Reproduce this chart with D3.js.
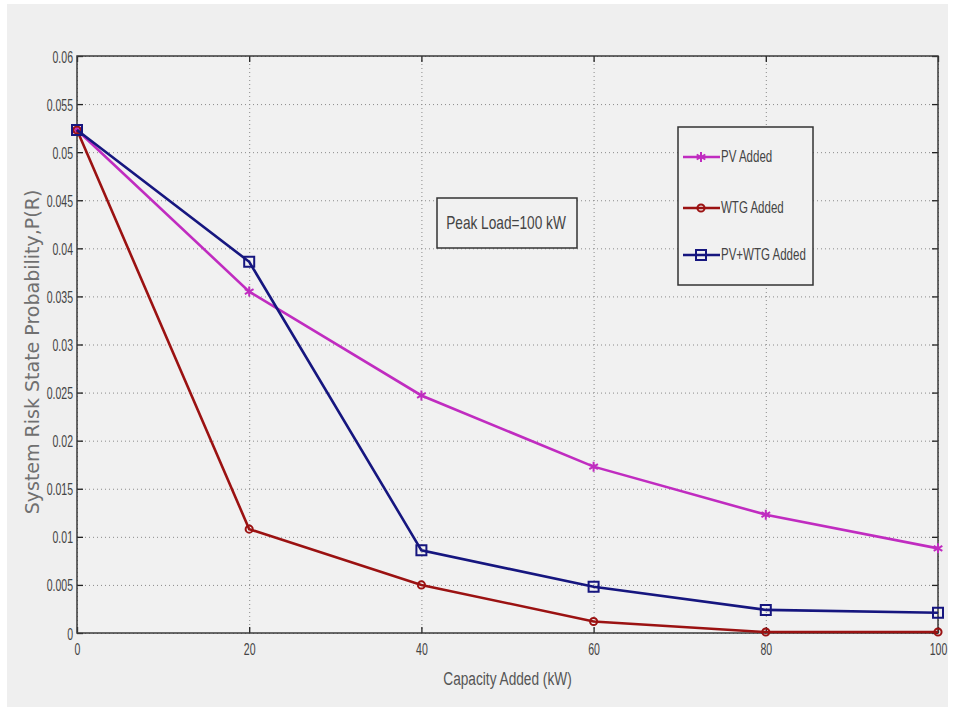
<!DOCTYPE html>
<html>
<head>
<meta charset="UTF-8">
<title>System Risk State Probability</title>
<script src="https://cdn.jsdelivr.net/npm/d3@7"></script>
<style>
    body { margin: 0; background: #ffffff; }
    svg { display: block; }
</style>
</head>
<body>
<svg id="chart" width="958" height="707"></svg>
<script>
// values
var capacity = [0, 20, 40, 60, 80, 100];
var pvAdded = [0.0523, 0.0355, 0.0247, 0.0173, 0.0123, 0.0088];
var wtgAdded = [0.0523, 0.0108, 0.0050, 0.0012, 0.0001, 0.0001];
var pvWtgAdded = [0.0523, 0.0386, 0.0086, 0.0048, 0.0024, 0.0021];
var xTicks = [0, 20, 40, 60, 80, 100];
var yTicks = [0, 0.005, 0.01, 0.015, 0.02, 0.025, 0.03, 0.035, 0.04, 0.045, 0.05, 0.055, 0.06];
var seriesNames = ["PV Added", "WTG Added", "PV+WTG Added"];

var series = [
    { name: seriesNames[0], values: pvAdded, color: "#c02cc0", symbol: d3.symbolAsterisk, size: 70 },
    { name: seriesNames[1], values: wtgAdded, color: "#9b1212", symbol: d3.symbolCircle, size: 40 },
    { name: seriesNames[2], values: pvWtgAdded, color: "#16167f", symbol: d3.symbolSquare, size: 100 }
];

var svg = d3.select("#chart");
var plotL = 77, plotR = 938, plotT = 56, plotB = 633;
var labelFont = "Liberation Sans, Arial, sans-serif";

// grey figure background
svg.append("rect").attr("x", 7).attr("y", 4).attr("width", 941).attr("height", 703)
    .attr("fill", "#efefef");
svg.append("rect").attr("x", plotL).attr("y", plotT).attr("width", plotR - plotL).attr("height", plotB - plotT)
    .attr("fill", "#f1f1f1");

var x = d3.scaleLinear().domain([0, 100]).range([plotL, plotR]);
var y = d3.scaleLinear().domain([0, 0.06]).range([plotB, plotT]);

var narrow = 0.62;

// dotted grid
svg.append("g").attr("transform", "translate(0," + plotB + ")")
    .call(d3.axisBottom(x).tickValues(xTicks).tickSize(-(plotB - plotT)).tickFormat(""))
    .call(function (g) {
        g.select(".domain").remove();
        g.selectAll("line").attr("stroke", "#8a8a8a").attr("stroke-dasharray", "1,3");
    });
svg.append("g").attr("transform", "translate(" + plotL + ",0)")
    .call(d3.axisLeft(y).tickValues(yTicks).tickSize(-(plotR - plotL)).tickFormat(""))
    .call(function (g) {
        g.select(".domain").remove();
        g.selectAll("line").attr("stroke", "#8a8a8a").attr("stroke-dasharray", "1,3");
    });

// inward ticks, matlab style, on all four sides
function styleAxis(g) {
    g.select(".domain").remove();
    g.selectAll("line").attr("stroke", "#222").attr("stroke-width", 1.3);
}
svg.append("g").attr("transform", "translate(0," + plotT + ")")
    .call(d3.axisTop(x).tickValues(xTicks).tickSize(-6).tickFormat(""))
    .call(styleAxis);
svg.append("g").attr("transform", "translate(" + plotR + ",0)")
    .call(d3.axisRight(y).tickValues(yTicks).tickSize(-6).tickFormat(""))
    .call(styleAxis);

svg.append("g").attr("transform", "translate(0," + plotB + ")")
    .call(d3.axisBottom(x).tickValues(xTicks).tickSize(-6).tickFormat(d3.format("d")))
    .call(styleAxis)
    .call(function (g) {
        g.selectAll("text")
            .attr("y", 0).attr("dy", null)
            .attr("transform", "translate(0,22) scale(" + narrow + ",1)")
            .attr("fill", "#444").style("font-family", labelFont)
            .style("font-size", "17px");
    });

svg.append("g").attr("transform", "translate(" + plotL + ",0)")
    .call(d3.axisLeft(y).tickValues(yTicks).tickSize(-6).tickFormat(function (d) { return d === 0 ? "0" : String(+d.toFixed(3)); }))
    .call(styleAxis)
    .call(function (g) {
        g.selectAll("text")
            .attr("x", 0).attr("dy", null)
            .attr("transform", "translate(-4,6) scale(" + narrow + ",1)")
            .attr("fill", "#444").style("font-family", labelFont)
            .style("font-size", "17px");
    });

// axes box
svg.append("rect").attr("x", plotL).attr("y", plotT).attr("width", plotR - plotL).attr("height", plotB - plotT)
    .attr("fill", "none").attr("stroke", "#3a3a3a").attr("stroke-width", 1.5);

// series lines and markers
var line = d3.line().x(function (d, i) { return x(capacity[i]); }).y(function (d) { return y(d); });

series.forEach(function (s) {
    svg.append("path").datum(s.values)
        .attr("d", line)
        .attr("fill", "none").attr("stroke", s.color).attr("stroke-width", 2.6);
    svg.append("g").selectAll("path").data(s.values).enter().append("path")
        .attr("transform", function (d, i) { return "translate(" + x(capacity[i]) + "," + y(d) + ")"; })
        .attr("d", d3.symbol().type(s.symbol).size(s.size))
        .attr("fill", "none").attr("stroke", s.color).attr("stroke-width", 2);
});

// axis titles
svg.append("text")
    .attr("transform", "translate(" + ((plotL + plotR) / 2) + ",685) scale(0.72,1)")
    .attr("text-anchor", "middle")
    .attr("fill", "#555").style("font-family", labelFont).style("font-size", "19px")
    .text("Capacity Added (kW)");

svg.append("text")
    .attr("transform", "translate(39,352) rotate(-90)")
    .attr("text-anchor", "middle")
    .attr("fill", "#707070").style("font-family", "DejaVu Sans, sans-serif").style("font-size", "19px")
    .text("System Risk State Probability,P(R)");

// annotation box
svg.append("rect").attr("x", 437).attr("y", 198).attr("width", 140).attr("height", 50)
    .attr("fill", "#f1f1f1").attr("stroke", "#333").attr("stroke-width", 1.5);
svg.append("text")
    .attr("transform", "translate(506,229) scale(0.76,1)")
    .attr("text-anchor", "middle")
    .attr("fill", "#444").style("font-family", labelFont).style("font-size", "18px")
    .text("Peak Load=100 kW");

// legend
var legend = svg.append("g");
legend.append("rect").attr("x", 678).attr("y", 127).attr("width", 135).attr("height", 158)
    .attr("fill", "#f1f1f1").attr("stroke", "#333").attr("stroke-width", 1.5);
var legendY = [157, 208, 255];
series.forEach(function (s, i) {
    legend.append("line").attr("x1", 683).attr("x2", 720).attr("y1", legendY[i]).attr("y2", legendY[i])
        .attr("stroke", s.color).attr("stroke-width", 2.6);
    legend.append("path").attr("transform", "translate(701," + legendY[i] + ")")
        .attr("d", d3.symbol().type(s.symbol).size(s.size))
        .attr("fill", "none").attr("stroke", s.color).attr("stroke-width", 2);
    legend.append("text")
        .attr("transform", "translate(721," + (legendY[i] + 5) + ") scale(0.72,1)")
        .attr("fill", "#444").style("font-family", labelFont).style("font-size", "16px")
        .text(s.name);
});
</script>
</body>
</html>
